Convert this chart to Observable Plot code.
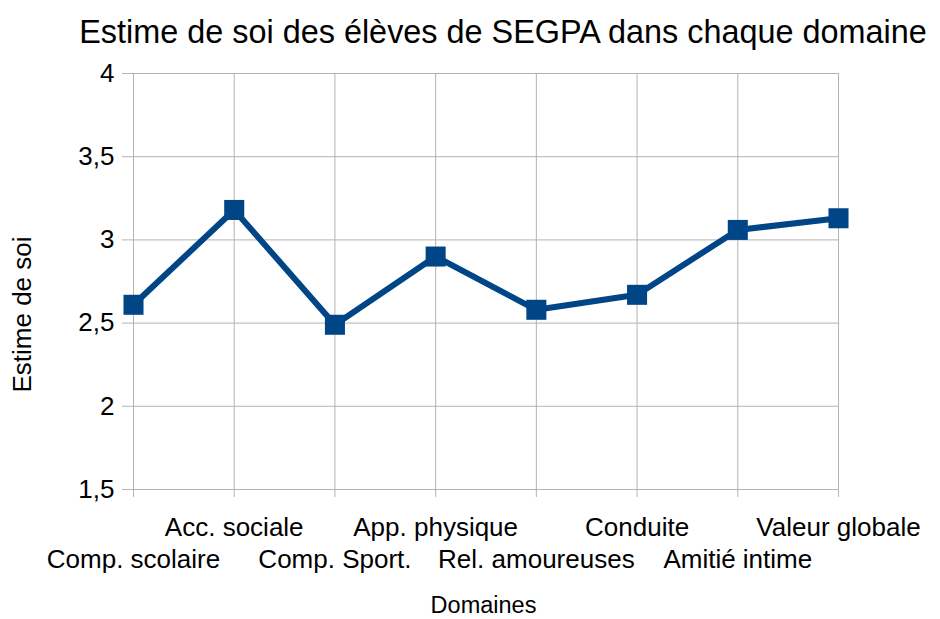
<!DOCTYPE html>
<html>
<head>
<meta charset="utf-8">
<script src="https://cdn.jsdelivr.net/npm/d3@7"></script>
<script src="https://cdn.jsdelivr.net/npm/@observablehq/plot@0.6"></script>
<style>
  html, body { margin: 0; padding: 0; background: #fff; }
</style>
</head>
<body>
<div id="chart"></div>
<script>
const domaines = ["Comp. scolaire", "Acc. sociale", "Comp. Sport.", "App. physique", "Rel. amoureuses", "Conduite", "Amitié intime", "Valeur globale"];
const estime = [2.61, 3.18, 2.49, 2.90, 2.58, 2.67, 3.06, 3.13];
const yTicks = [1.5, 2, 2.5, 3, 3.5, 4];
const titre = "Estime de soi des élèves de SEGPA dans chaque domaine";
const labelY = "Estime de soi";
const labelX = "Domaines";

const data = domaines.map((d, i) => ({domaine: d, valeur: estime[i]}));
const rangee1 = domaines.filter((d, i) => i % 2 === 1);
const rangee2 = domaines.filter((d, i) => i % 2 === 0);
const fmt = d => String(d).replace(".", ",");
const font = "'Liberation Sans', Arial, sans-serif";
const grey = "#b3b3b3";
const blue = "#004586";

const chart = Plot.plot({
  width: 940,
  height: 619,
  marginTop: 73,
  marginBottom: 130,
  marginLeft: 133,
  marginRight: 102,
  style: {fontFamily: font, background: "#fff", color: "black"},
  x: {type: "point", domain: domaines, padding: 0, round: false},
  y: {domain: [1.5, 4]},
  marks: [
    Plot.gridY(yTicks, {stroke: grey, strokeOpacity: 1, strokeWidth: 1}),
    Plot.gridX(domaines, {stroke: grey, strokeOpacity: 1, strokeWidth: 1}),
    Plot.axisY(yTicks, {tickSize: 11, tickPadding: 8, stroke: grey, fill: "black", fontSize: 26, tickFormat: fmt, label: null}),
    Plot.axisX(rangee1, {tickSize: 8, tickPadding: 20, stroke: grey, fill: "black", fontSize: 26, label: null}),
    Plot.axisX(rangee2, {tickSize: 8, tickPadding: 52, stroke: grey, fill: "black", fontSize: 26, label: null}),
    Plot.line(data, {x: "domaine", y: "valeur", stroke: blue, strokeWidth: 6, strokeLinejoin: "miter"}),
    Plot.dot(data, {x: "domaine", y: "valeur", symbol: "square", r: 11.3, fill: blue, stroke: null}),
    Plot.text([titre], {frameAnchor: "top", dx: 17, dy: -41, fontSize: 32.4, fill: "black", lineAnchor: "middle"}),
    Plot.text([labelY], {frameAnchor: "left", textAnchor: "middle", dx: -111, dy: 33, rotate: -90, fontSize: 26, fill: "black", lineAnchor: "middle"}),
    Plot.text([labelX], {frameAnchor: "bottom", dx: -2.5, dy: 116, fontSize: 23.5, fill: "black", lineAnchor: "middle"})
  ]
});
document.getElementById("chart").appendChild(chart);
</script>
</body>
</html>
